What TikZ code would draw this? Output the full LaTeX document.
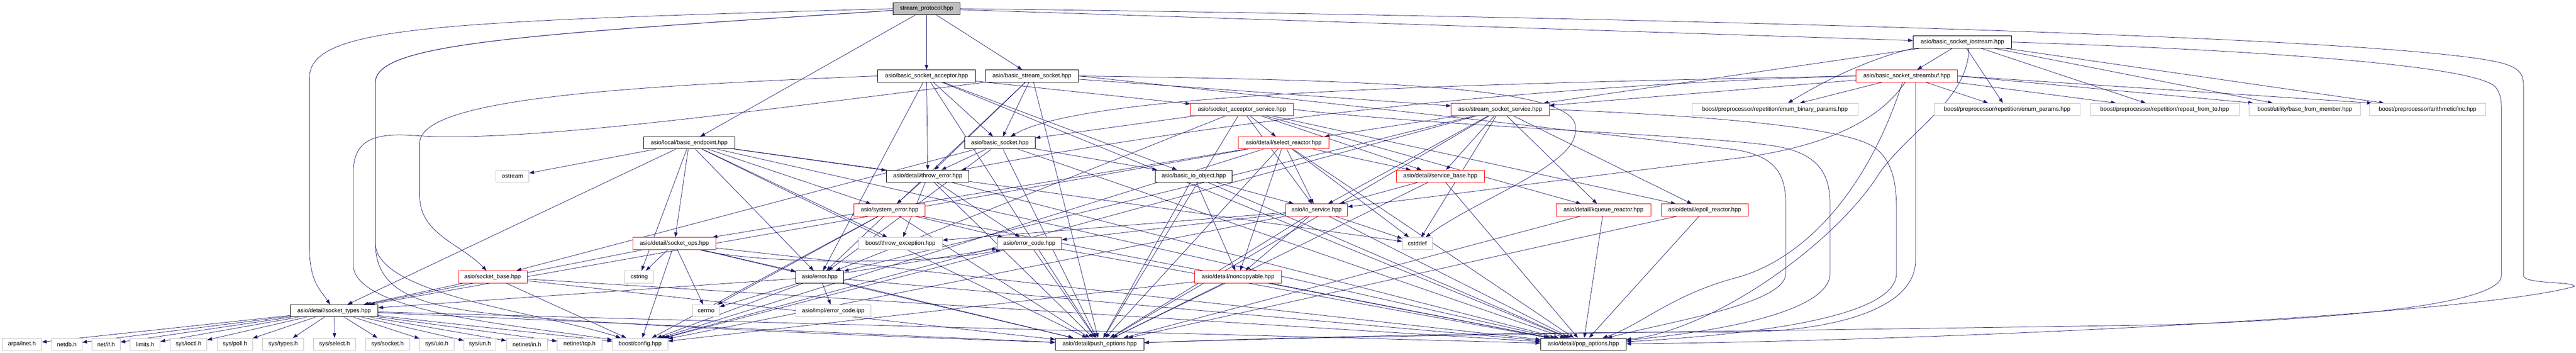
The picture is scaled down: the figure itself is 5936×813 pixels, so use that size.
\documentclass[tikz,border=0pt]{standalone}
\usepackage{fontspec}
\setmainfont{Liberation Sans}
\usetikzlibrary{arrows.meta,backgrounds}
\definecolor{edgec}{HTML}{191970}
\definecolor{lgray}{HTML}{BFBFBF}
\definecolor{rootfill}{HTML}{BFBFBF}
\begin{document}
\begin{tikzpicture}[x=1pt,y=-1pt,
  box/.style={rectangle, fill=white, minimum height=28pt, inner sep=0pt, font=\fontsize{13.5}{16}\selectfont, line width=1.1pt},
  blk/.style={box, draw=black},
  rd/.style={box, draw=red},
  gr/.style={box, draw=lgray},
  root/.style={box, draw=black, fill=rootfill},
  conn/.style={draw=edgec, line width=0.9pt, -{Triangle[length=11pt,width=8pt]}}
]
\useasboundingbox (0,0) rectangle (5936,813);
% nodes
\node[root, minimum width=155] (SP) at (2135,20) {stream\_protocol.hpp};
\node[blk, minimum width=227] (BSI) at (4522,97) {asio/basic\_socket\_iostream.hpp};
\node[blk, minimum width=225] (BSA) at (2135,175) {asio/basic\_socket\_acceptor.hpp};
\node[blk, minimum width=215] (BSS) at (2378,175) {asio/basic\_stream\_socket.hpp};
\node[rd, minimum width=234] (STB) at (4394,175) {asio/basic\_socket\_streambuf.hpp};
\node[rd, minimum width=237] (SAS) at (2862,252) {asio/socket\_acceptor\_service.hpp};
\node[rd, minimum width=226] (SSS) at (3457,252) {asio/stream\_socket\_service.hpp};
\node[gr, minimum width=382] (EBP) at (4090,252) {boost/preprocessor/repetition/enum\_binary\_params.hpp};
\node[gr, minimum width=336] (EP) at (4625,252) {boost/preprocessor/repetition/enum\_params.hpp};
\node[gr, minimum width=343] (RFT) at (4988,252) {boost/preprocessor/repetition/repeat\_from\_to.hpp};
\node[gr, minimum width=257] (BFM) at (5311,252) {boost/utility/base\_from\_member.hpp};
\node[gr, minimum width=266] (INC) at (5594,252) {boost/preprocessor/arithmetic/inc.hpp};
\node[blk, minimum width=210] (BE) at (1588,329) {asio/local/basic\_endpoint.hpp};
\node[blk, minimum width=163] (BS) at (2304,329) {asio/basic\_socket.hpp};
\node[rd, minimum width=209] (SR) at (2958,329) {asio/detail/select\_reactor.hpp};
\node[gr, minimum width=76] (OST) at (1181,406) {ostream};
\node[blk, minimum width=190] (TE) at (2138,406) {asio/detail/throw\_error.hpp};
\node[blk, minimum width=177] (BIO) at (2751,406) {asio/basic\_io\_object.hpp};
\node[rd, minimum width=203] (SVB) at (3319,406) {asio/detail/service\_base.hpp};
\node[rd, minimum width=164] (SE) at (2050,484) {asio/system\_error.hpp};
\node[rd, minimum width=142] (IOS) at (3034,484) {asio/io\_service.hpp};
\node[rd, minimum width=219] (KQ) at (3695,484) {asio/detail/kqueue\_reactor.hpp};
\node[rd, minimum width=201] (EPR) at (3928,484) {asio/detail/epoll\_reactor.hpp};
\node[rd, minimum width=190] (SOPS) at (1554,561) {asio/detail/socket\_ops.hpp};
\node[gr, minimum width=193] (TEX) at (2075,561) {boost/throw\_exception.hpp};
\node[rd, minimum width=149] (EC) at (2372,561) {asio/error\_code.hpp};
\node[gr, minimum width=69] (CSD) at (3266,561) {cstddef};
\node[rd, minimum width=159] (SBASE) at (1135,638) {asio/socket\_base.hpp};
\node[gr, minimum width=66] (CSTR) at (1473,638) {cstring};
\node[blk, minimum width=110] (ERR) at (1889,638) {asio/error.hpp};
\node[rd, minimum width=200] (NC) at (2853,638) {asio/detail/noncopyable.hpp};
\node[blk, minimum width=202] (ST) at (770,716) {asio/detail/socket\_types.hpp};
\node[gr, minimum width=61] (CERR) at (1627,716) {cerrno};
\node[gr, minimum width=173] (ECI) at (1920,716) {asio/impl/error\_code.ipp};
\node[gr, minimum width=91] (AI) at (50.5,793) {arpa/inet.h};
\node[gr, minimum width=70] (NDB) at (154,793) {netdb.h};
\node[gr, minimum width=65] (NIF) at (244.5,793) {net/if.h};
\node[gr, minimum width=69] (LIM) at (334.5,793) {limits.h};
\node[gr, minimum width=85] (IOC) at (434.5,793) {sys/ioctl.h};
\node[gr, minimum width=81] (POLL) at (541.5,793) {sys/poll.h};
\node[gr, minimum width=95] (TYP) at (652.5,793) {sys/types.h};
\node[gr, minimum width=98] (SEL) at (771,793) {sys/select.h};
\node[gr, minimum width=102] (SOCK) at (893,793) {sys/socket.h};
\node[gr, minimum width=79] (UIO) at (1006.5,793) {sys/uio.h};
\node[gr, minimum width=74] (UN) at (1106,793) {sys/un.h};
\node[gr, minimum width=94] (NIN) at (1214,793) {netinet/in.h};
\node[gr, minimum width=103] (TCP) at (1335.5,793) {netinet/tcp.h};
\node[gr, minimum width=128] (CFG) at (1475,793) {boost/config.hpp};
\node[blk, minimum width=204] (PUSH) at (2534,793) {asio/detail/push\_options.hpp};
\node[blk, minimum width=197] (POP) at (3648.5,793) {asio/detail/pop\_options.hpp};

\begin{pgfonlayer}{background}
\fill[white] (0,0) rectangle (5936,813);
\foreach \a/\b in {SP/BSA, SP/BSS, SP/BSI, SP/BE,
  BSA/BIO, BSA/BS, BSA/ERR, BSA/SAS, BSA/TE, BSA/PUSH, BSA/POP,
  BSS/BS, BSS/ERR, BSS/SSS, BSS/TE, BSS/PUSH,
  BSI/STB, BSI/SSS, BSI/INC, BSI/EP, BSI/RFT, BSI/BFM,
  STB/EBP, STB/EP, STB/RFT, STB/SSS,
  BE/OST, BE/CSTR, BE/CSD, BE/TEX, BE/ERR, BE/SE, BE/SOPS, BE/ST, BE/TE, BE/PUSH, BE/POP,
  SAS/BS, SAS/ERR, SAS/IOS, SAS/EPR, SAS/KQ, SAS/SR, SAS/SVB, SAS/PUSH,
  SSS/CSD, SSS/CFG, SSS/ERR, SSS/IOS, SSS/EPR, SSS/KQ, SSS/SR, SSS/SVB, SSS/PUSH,
  BS/BIO, BS/ERR, BS/SBASE, BS/TE, BS/PUSH, BS/POP,
  SR/ST, SR/CSD, SR/CFG, SR/IOS, SR/NC, SR/SVB, SR/SOPS, SR/PUSH, SR/POP,
  TE/TEX, TE/EC, TE/SE, TE/PUSH, TE/POP,
  BIO/IOS, BIO/NC, BIO/PUSH, BIO/POP,
  SVB/IOS, SVB/PUSH, SVB/POP,
  SE/CFG, SE/CERR, SE/EC, SE/PUSH, SE/POP,
  IOS/CSD, IOS/CFG, IOS/TEX, IOS/EC, IOS/NC, IOS/PUSH, IOS/POP,
  KQ/PUSH, KQ/POP, EPR/PUSH, EPR/POP,
  SOPS/CFG, SOPS/CSTR, SOPS/CERR, SOPS/ERR, SOPS/ST, SOPS/PUSH, SOPS/POP,
  EC/CFG, EC/PUSH, EC/POP,
  SBASE/CFG, SBASE/ST, SBASE/PUSH, SBASE/POP,
  ERR/CFG, ERR/CERR, ERR/EC, ERR/ST, ERR/ECI, ERR/PUSH, ERR/POP,
  NC/CFG, NC/PUSH, NC/POP,
  ST/AI, ST/NDB, ST/NIF, ST/LIM, ST/IOC, ST/POLL, ST/TYP, ST/SEL, ST/SOCK,
  ST/UIO, ST/UN, ST/NIN, ST/TCP, ST/CFG, ST/PUSH, ST/POP}
  {\draw[conn] (\a) -- (\b);}
% routed connectors
\draw[conn] (SP.west) .. controls (1000,50) and (713,60) .. (713,180) -- (713,570) .. controls (713,650) and (740,670) .. (ST);
\draw[conn] ([yshift=-4pt]SP.west) .. controls (1200,80) and (865,100) .. (865,190) -- (865,560) .. controls (865,680) and (1250,720) .. (CFG);
\draw[conn] ([yshift=-4pt]SP.west) .. controls (1200,80) and (865,100) .. (865,190) -- (865,560) .. controls (865,690) and (1000,710) .. (1200,730) .. controls (1700,765) and (2200,780) .. (PUSH);
\draw[conn] (SP.east) .. controls (3500,35) and (5600,80) .. (5780,150) .. controls (5810,162) and (5815,175) .. (5815,200) -- (5815,635) .. controls (5815,655) and (5935,648) .. (5932,660) .. controls (5700,725) and (4500,785) .. (POP);
\draw[conn] (BSI.east) .. controls (5200,115) and (5700,150) .. (5750,200) .. controls (5762,215) and (5764,230) .. (5764,250) -- (5764,635) .. controls (5764,700) and (5400,735) .. (5000,748) .. controls (4300,760) and (3200,770) .. (PUSH);
\draw[conn] (BSI.south west) .. controls (4330,130) and (4230,170) .. ([xshift=30pt]EBP.north);
\draw[conn] ([xshift=15pt]BSI.south) .. controls (4535,230) and (4400,300) .. (4330,400) .. controls (4230,560) and (3950,760) .. (POP);
\draw[conn] (BSA.west) .. controls (1400,200) and (967,230) .. (967,330) -- (967,450) .. controls (967,540) and (1060,560) .. (SBASE);
\draw[conn] (BSS.south west) .. controls (1700,260) and (1200,330) .. (950,312) .. controls (850,305) and (814,330) .. (814,400) -- (814,610) .. controls (814,720) and (1200,750) .. (CFG);
\draw[conn] (BSS.east) .. controls (3200,185) and (3650,200) .. (3630,300) .. controls (3635,380) and (3400,460) .. (CSD);
\draw[conn] (BSS.east) .. controls (3000,230) and (3800,320) .. (4000,345) .. controls (4090,360) and (4115,400) .. (4115,470) -- (4115,630) .. controls (4115,700) and (3850,740) .. (POP);
\draw[conn] (SAS.east) .. controls (3300,290) and (3900,310) .. (4080,335) .. controls (4190,350) and (4217,400) .. (4217,470) -- (4217,630) .. controls (4217,720) and (3950,765) .. (POP);
\draw[conn] (SSS.east) .. controls (3900,265) and (4250,290) .. (4320,340) .. controls (4360,370) and (4370,420) .. (4370,480) -- (4370,630) .. controls (4370,730) and (4050,770) .. (POP);
\draw[conn] ([xshift=20pt]STB.south) -- (4414,600) .. controls (4414,720) and (4200,765) .. (4000,765) .. controls (3400,765) and (2900,780) .. (PUSH);
\draw[conn] ([xshift=-10pt]STB.south) .. controls (4300,450) and (4150,600) .. (4000,640) .. controls (3850,680) and (3780,750) .. (POP);
\draw[conn] ([xshift=-4pt]STB.south) .. controls (4330,280) and (4200,340) .. (4000,365) .. controls (3700,400) and (3300,455) .. (IOS);
\draw[conn] (STB.west) .. controls (3400,200) and (2700,300) .. (TE);
\draw[conn] (STB.west) .. controls (3300,195) and (2500,215) .. (BS);
\draw[conn] (STB.east) -- ([xshift=10pt]BFM.north west);
\draw[conn] (STB.east) -- ([xshift=5pt]INC.north west);
\draw[conn] (SOPS) .. controls (1750,610) and (2150,610) .. (EC);
\end{pgfonlayer}
\end{tikzpicture}
\end{document}
